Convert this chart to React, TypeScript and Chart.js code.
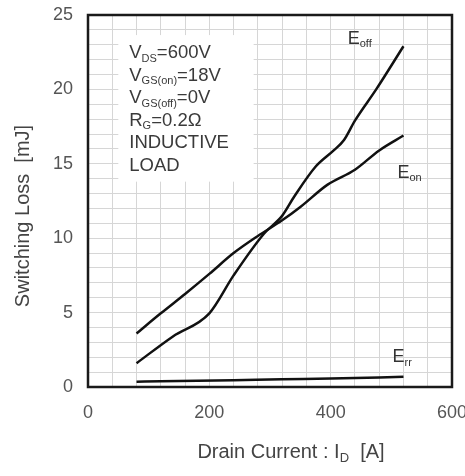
import React, { useEffect, useRef } from "react";
import { Chart, registerables } from "chart.js";

Chart.register(...registerables);

const eoffCurrents = [80, 140, 200, 240, 290, 320, 340, 375, 405, 422, 440, 475, 520];
const eoff = [1.6, 3.4, 4.95, 7.5, 10.3, 11.5, 12.8, 14.8, 15.9, 16.6, 17.9, 20.0, 22.9];
const eonCurrents = [80, 120, 160, 200, 240, 280, 320, 350, 395, 440, 480, 520];
const eon = [3.6, 4.95, 6.25, 7.6, 9.0, 10.15, 11.2, 12.1, 13.6, 14.6, 15.9, 16.9];
const errCurrents = [80, 120, 240, 320, 400, 480, 520];
const err = [0.36, 0.38, 0.46, 0.52, 0.57, 0.64, 0.69];

const xTickLabels = [0, 200, 400, 600];
const yTickLabels = [0, 5, 10, 15, 20, 25];

const conditionLines: [string, string, string][] = [
  ["V", "DS", "=600V"],
  ["V", "GS(on)", "=18V"],
  ["V", "GS(off)", "=0V"],
  ["R", "G", "=0.2\u03a9"],
  ["INDUCTIVE", "", ""],
  ["LOAD", "", ""],
];

const curveLabels: { main: string; sub: string; x: number; y: number }[] = [
  { main: "E", sub: "off", x: 428, y: 23.4 },
  { main: "E", sub: "on", x: 510, y: 14.4 },
  { main: "E", sub: "rr", x: 502, y: 2.0 },
];

const FONT = "'Liberation Sans', Arial, sans-serif";

function drawParts(ctx: CanvasRenderingContext2D, parts: [string, boolean][], x: number, y: number, size: number, subSize: number, align: "left" | "center") {
  let total = 0;
  for (const [t, sub] of parts) {
    ctx.font = `${sub ? subSize : size}px ${FONT}`;
    total += ctx.measureText(t).width;
  }
  let cx = align === "center" ? x - total / 2 : x;
  ctx.textBaseline = "middle";
  ctx.textAlign = "left";
  for (const [t, sub] of parts) {
    ctx.font = `${sub ? subSize : size}px ${FONT}`;
    ctx.fillText(t, cx, sub ? y + size * 0.3 : y);
    cx += ctx.measureText(t).width;
  }
}

const decorPlugin = {
  id: "decor",
  beforeDatasetsDraw(chart: any) {
    const { ctx, scales } = chart;
    const xs = scales.x;
    const ys = scales.y;
    const l = xs.getPixelForValue(50);
    const r = xs.getPixelForValue(273);
    const t = ys.getPixelForValue(23.65);
    const b = ys.getPixelForValue(13.8);
    ctx.save();
    ctx.fillStyle = "#ffffff";
    ctx.fillRect(l, t, r - l, b - t);
    ctx.fillStyle = "#3a3a3a";
    const tx = xs.getPixelForValue(68);
    const ty = ys.getPixelForValue(22.45);
    conditionLines.forEach((ln, i) => {
      const parts: [string, boolean][] = [[ln[0], false]];
      if (ln[1]) parts.push([ln[1], true]);
      if (ln[2]) parts.push([ln[2], false]);
      drawParts(ctx, parts, tx, ty + i * 22.6, 18.5, 11, "left");
    });
    ctx.restore();
  },
  afterDraw(chart: any) {
    const { ctx, chartArea, scales } = chart;
    ctx.save();
    ctx.strokeStyle = "#1a1a1a";
    ctx.lineWidth = 2.5;
    ctx.strokeRect(chartArea.left, chartArea.top, chartArea.right - chartArea.left, chartArea.bottom - chartArea.top);
    ctx.fillStyle = "#333333";
    for (const c of curveLabels) {
      drawParts(ctx, [[c.main, false], [c.sub, true]], scales.x.getPixelForValue(c.x), scales.y.getPixelForValue(c.y), 18, 11, "left");
    }
    ctx.fillStyle = "#444444";
    drawParts(ctx, [["Drain Current : I", false], ["D", true], ["  [A]", false]], 291, 452, 20, 13, "center");
    ctx.translate(23, 216);
    ctx.rotate(-Math.PI / 2);
    drawParts(ctx, [["Switching Loss  [mJ]", false]], 0, 0, 20, 13, "center");
    ctx.restore();
  },
};

export default function App() {
  const ref = useRef<HTMLCanvasElement | null>(null);
  useEffect(() => {
    if (!ref.current) return;
    const line = (label: string, xs: number[], data: number[]) => ({
      label,
      data: xs.map((x, i) => ({ x, y: data[i] })),
      borderColor: "#111111",
      borderWidth: 2.5,
      pointRadius: 0,
      cubicInterpolationMode: "monotone" as const,
      fill: false,
    });
    const chart = new Chart(ref.current, {
      type: "line",
      data: {
        datasets: [
          line("Eoff", eoffCurrents, eoff),
          line("Eon", eonCurrents, eon),
          line("Err", errCurrents, err),
        ],
      },
      options: {
        responsive: false,
        animation: false,
        layout: { padding: { top: 15, right: 13, left: 0, bottom: 0 } },
        plugins: { legend: { display: false }, tooltip: { enabled: false } },
        scales: {
          x: {
            type: "linear",
            min: 0,
            max: 600,
            afterFit: (s: any) => {
              s.height = 89;
              s.paddingLeft = 0;
              s.paddingRight = 0;
            },
            grid: { color: "#d6d6d6", lineWidth: 1, drawTicks: false },
            border: { display: false },
            ticks: {
              stepSize: 40,
              autoSkip: false,
              maxRotation: 0,
              padding: 15,
              color: "#555555",
              font: { size: 18, family: FONT },
              callback: (v: any) => (xTickLabels.includes(Number(v)) ? String(v) : ""),
            },
          },
          y: {
            type: "linear",
            min: 0,
            max: 25,
            afterFit: (s: any) => {
              s.width = 88;
              s.paddingTop = 0;
              s.paddingBottom = 0;
            },
            grid: { color: "#d6d6d6", lineWidth: 1, drawTicks: false },
            border: { display: false },
            ticks: {
              stepSize: 1,
              autoSkip: false,
              padding: 15,
              color: "#555555",
              font: { size: 18, family: FONT },
              callback: (v: any) => (yTickLabels.includes(Number(v)) ? String(v) : ""),
            },
          },
        },
      },
      plugins: [decorPlugin],
    });
    return () => chart.destroy();
  }, []);
  return (
    <div style={{ position: "absolute", left: 0, top: 0, width: 465, height: 476, background: "#fff" }}>
      <canvas ref={ref} width={465} height={476} />
    </div>
  );
}
